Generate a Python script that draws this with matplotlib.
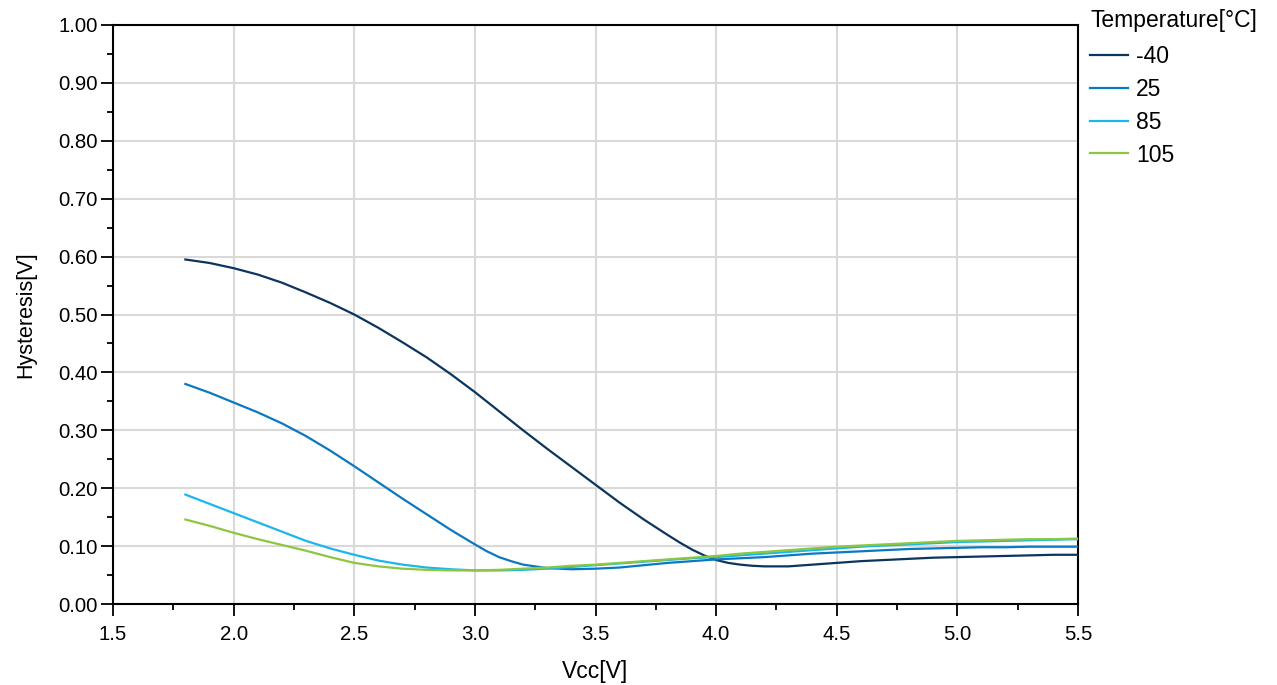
import matplotlib
matplotlib.use("Agg")
import matplotlib.pyplot as plt
from matplotlib.ticker import MultipleLocator

plt.rcParams['font.family'] = ['Liberation Sans', 'DejaVu Sans']

vcc = [1.8, 1.9, 2.0, 2.1, 2.2, 2.3, 2.4, 2.5, 2.6, 2.7, 2.8, 2.9, 3.0, 3.1, 3.2, 3.3,
       3.4, 3.5, 3.6, 3.7, 3.8, 3.9, 4.0, 4.1, 4.2, 4.3, 4.4, 4.5, 4.6, 4.7, 4.8, 4.9,
       5.0, 5.1, 5.2, 5.3, 5.4, 5.5]

vcc_m40 = [1.8, 1.9, 2.0, 2.1, 2.2, 2.3, 2.4, 2.5, 2.6, 2.7, 2.8, 2.9, 3.0, 3.1, 3.2, 3.3,
           3.4, 3.5, 3.6, 3.7, 3.8, 3.85, 3.9, 3.95, 4.0, 4.05, 4.1, 4.15, 4.2, 4.3, 4.4,
           4.5, 4.6, 4.7, 4.8, 4.9, 5.0, 5.1, 5.2, 5.3, 5.4, 5.5]
hyst_m40 = [0.595, 0.589, 0.580, 0.569, 0.555, 0.538, 0.520, 0.500, 0.477, 0.452, 0.426,
            0.397, 0.366, 0.333, 0.300, 0.268, 0.237, 0.206, 0.175, 0.146, 0.119, 0.106,
            0.094, 0.084, 0.076, 0.071, 0.068, 0.066, 0.065, 0.065, 0.068, 0.071, 0.074,
            0.076, 0.078, 0.080, 0.081, 0.082, 0.083, 0.084, 0.085, 0.085]

vcc_25 = [1.8, 1.9, 2.0, 2.1, 2.2, 2.3, 2.4, 2.5, 2.6, 2.7, 2.8, 2.9, 3.0, 3.05, 3.1,
          3.15, 3.2, 3.25, 3.3, 3.35, 3.4, 3.5, 3.6, 3.7, 3.8, 3.9, 4.0, 4.1, 4.2, 4.3,
          4.4, 4.5, 4.6, 4.7, 4.8, 4.9, 5.0, 5.1, 5.2, 5.3, 5.4, 5.5]
hyst_25 = [0.380, 0.365, 0.348, 0.331, 0.312, 0.290, 0.265, 0.238, 0.210, 0.182, 0.155,
           0.128, 0.103, 0.091, 0.081, 0.074, 0.068, 0.065, 0.062, 0.061, 0.060, 0.061,
           0.063, 0.067, 0.071, 0.074, 0.077, 0.079, 0.081, 0.084, 0.087, 0.089, 0.091,
           0.093, 0.095, 0.096, 0.097, 0.098, 0.098, 0.099, 0.099, 0.099]

hyst_85 = [0.189, 0.173, 0.157, 0.141, 0.125, 0.109, 0.096, 0.085, 0.075, 0.068, 0.063,
           0.060, 0.058, 0.058, 0.059, 0.061, 0.064, 0.067, 0.070, 0.073, 0.076, 0.079,
           0.081, 0.084, 0.087, 0.090, 0.093, 0.096, 0.099, 0.101, 0.103, 0.105, 0.107,
           0.108, 0.109, 0.110, 0.111, 0.112]
hyst_105 = [0.146, 0.135, 0.123, 0.112, 0.102, 0.092, 0.081, 0.071, 0.065, 0.061, 0.059,
            0.058, 0.058, 0.059, 0.061, 0.063, 0.066, 0.068, 0.071, 0.074, 0.077, 0.080,
            0.083, 0.087, 0.090, 0.093, 0.096, 0.099, 0.101, 0.103, 0.105, 0.107, 0.109,
            0.110, 0.111, 0.112, 0.112, 0.113]

series_labels = ['-40', '25', '85', '105']
series_colors = ['#0c355e', '#0a78c2', '#1bb7ec', '#8dc63f']
x_ticks = [1.5, 2.0, 2.5, 3.0, 3.5, 4.0, 4.5, 5.0, 5.5]
y_ticks = [0.0, 0.1, 0.2, 0.3, 0.4, 0.5, 0.6, 0.7, 0.8, 0.9, 1.0]

fig = plt.figure(figsize=(12.77, 6.85), dpi=100)
ax = fig.add_axes([113/1277, 81/685, (1078-113)/1277, (604-25)/685])

xs_all = [vcc_m40, vcc_25, vcc, vcc]
ys_all = [hyst_m40, hyst_25, hyst_85, hyst_105]
for xs, ys, lab, col in zip(xs_all, ys_all, series_labels, series_colors):
    ax.plot(xs, ys, color=col, lw=1.6, label=lab, zorder=3)

ax.set_xlim(1.5, 5.5)
ax.set_ylim(0, 1.0)
ax.set_xticks(x_ticks)
ax.set_xticklabels([f"{v:.1f}" for v in x_ticks])
ax.set_yticks(y_ticks)
ax.set_yticklabels([f"{v:.2f}" for v in y_ticks])
ax.xaxis.set_minor_locator(MultipleLocator(0.25))
ax.yaxis.set_minor_locator(MultipleLocator(0.05))
ax.tick_params(which='major', direction='out', length=8.4, width=1.3, labelsize=14.7, color='black')
ax.tick_params(which='minor', direction='out', length=4, width=1.3, color='black')
ax.tick_params(axis='x', which='major', pad=7)
ax.tick_params(axis='y', which='major', pad=2.5)
ax.grid(True, which='major', color='#d9d9d9', lw=1.5, zorder=0)
ax.set_axisbelow(True)
for s in ax.spines.values():
    s.set_linewidth(1.5)
    s.set_color('black')

ax.set_xlabel('Vcc[V]', fontsize=16.5, labelpad=11)
ax.set_ylabel('Hysteresis[V]', fontsize=15.5, labelpad=16)

leg = fig.legend(loc='upper left', bbox_to_anchor=(1082/1277, 1 - 1/685), frameon=False,
                 title='Temperature[°C]', fontsize=16.5, title_fontsize=16.5,
                 handlelength=1.65, labelspacing=0.43, handletextpad=0.35,
                 borderaxespad=0.0, borderpad=0.35)
leg._legend_box.align = 'left'
leg._legend_box.sep = 9.3

fig.savefig('out.png', dpi=100)
